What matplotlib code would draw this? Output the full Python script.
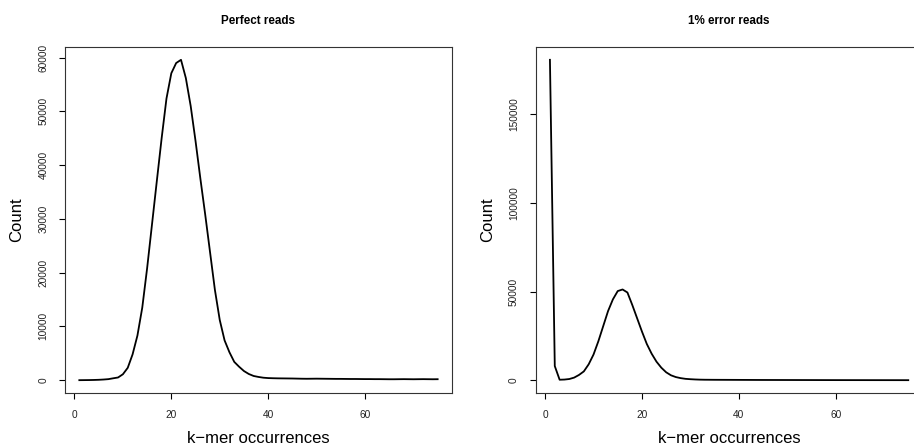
import matplotlib.pyplot as plt
import numpy as np

plt.rcParams['font.family'] = ['Liberation Sans', 'DejaVu Sans']

# k-mer occurrence values 1..75
kmer = list(range(1, 76))

perfect_counts = [
    0, 10, 20, 40, 70, 120, 190, 350, 500, 1100,
    2300, 4800, 8300, 13500, 20800, 28900, 37000, 45000, 52400, 57100,
    59000, 59600, 56200, 51000, 44500, 37500, 30800, 23800, 16800, 11200,
    7400, 5200, 3400, 2500, 1700, 1150, 780, 600, 460, 390,
    360, 340, 330, 320, 310, 290, 270, 260, 270, 280,
    270, 260, 250, 240, 240, 230, 220, 220, 210, 200,
    200, 190, 190, 180, 170, 170, 180, 190, 180, 170,
    180, 190, 180, 170, 180,
]

error_counts = [
    180700, 8000, 300, 400, 700, 1500, 3000, 5000, 9000, 14500,
    22000, 30500, 39000, 45600, 50300, 51200, 49500, 42500, 35000, 27500,
    20500, 15000, 10500, 7100, 4500, 2800, 1800, 1200, 800, 600,
    450, 350, 300, 280, 260, 250, 240, 230, 220, 210,
    200, 190, 180, 170, 165, 160, 155, 150, 145, 140,
    135, 130, 125, 120, 115, 110, 105, 100, 95, 90,
    88, 85, 82, 80, 78, 75, 72, 70, 68, 65,
    62, 60, 58, 55, 52,
]

titles = ['Perfect reads', '1% error reads']
yticks_list = [list(range(0, 60001, 10000)), [0, 50000, 100000, 150000]]
xticks = [0, 20, 40, 60]

fig = plt.figure(figsize=(9.14, 4.48), dpi=100)
positions = [[0.0711, 0.1228, 0.4234, 0.7723], [0.586, 0.1228, 0.4234, 0.7723]]

for pos, counts, title, yt in zip(positions, [perfect_counts, error_counts], titles, yticks_list):
    ax = fig.add_axes(pos)
    ax.plot(kmer, counts, color='black', lw=1.3)

    # R style 4% padding
    x = np.array(kmer)
    y = np.array(counts)
    xr = x.max() - x.min()
    yr = y.max() - y.min()
    ax.set_xlim(x.min() - 0.04 * xr, x.max() + 0.04 * xr)
    ax.set_ylim(y.min() - 0.04 * yr, y.max() + 0.04 * yr)

    ax.set_xticks(xticks)
    ax.set_yticks(yt)
    ax.tick_params(axis='both', direction='out', length=4, width=0.8, labelsize=7.3, pad=8, colors='black')
    ax.tick_params(axis='both', labelcolor='#222222')
    for lab in ax.get_yticklabels():
        lab.set_rotation(90)
        lab.set_va('center')
    for s in ax.spines.values():
        s.set_color('#333333')
        s.set_linewidth(0.8)

    ax.set_xlabel('k\u2212mer occurrences', fontsize=12, labelpad=8)
    ax.set_ylabel('Count', fontsize=12, labelpad=10)
    ax.set_title(title, fontsize=8.4, fontweight='bold', pad=16.5)

fig.savefig('out.png', dpi=100)
